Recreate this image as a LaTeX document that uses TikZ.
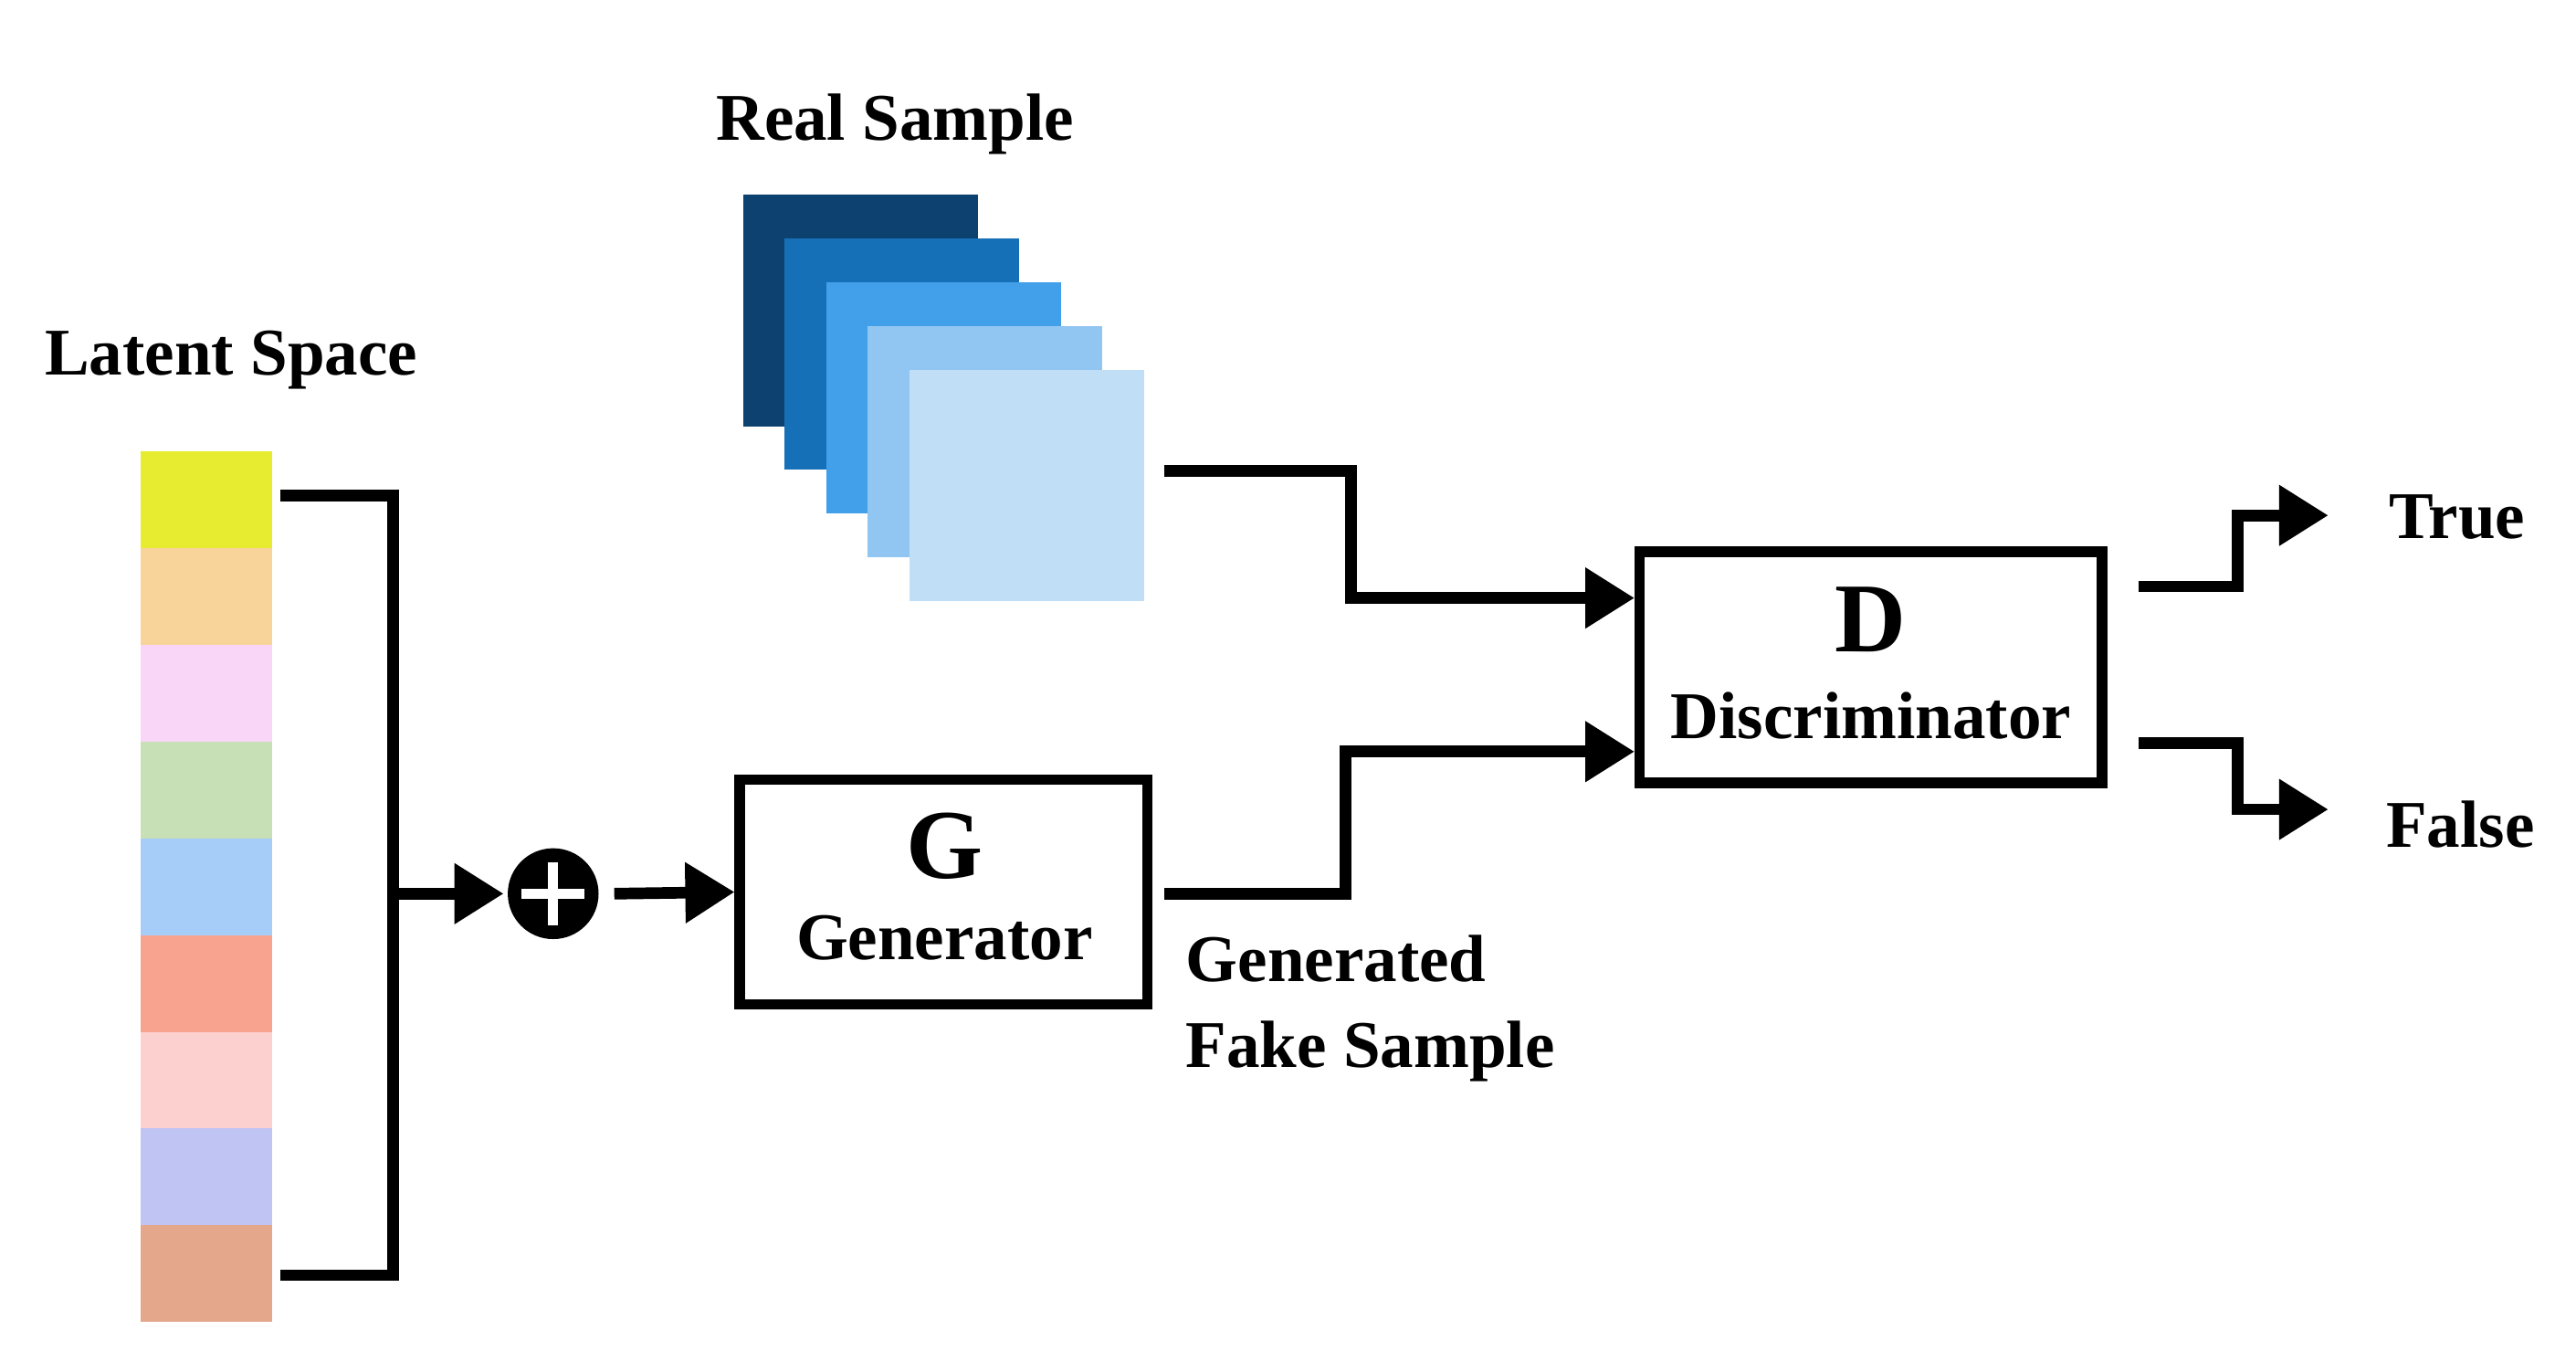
\documentclass[tikz,border=0pt]{standalone}
\usepackage{fontspec}
\setmainfont{Liberation Serif}
\usetikzlibrary{arrows.meta}
\begin{document}
\begin{tikzpicture}[x=0.02cm,y=-0.02cm,
  lbl/.style={font=\fontsize{23}{29.5}\selectfont\bfseries},
  big/.style={font=\fontsize{34}{38}\selectfont\bfseries},
  blk/.style={draw,line width=3.6pt,minimum width=0},
  wire/.style={line width=4pt},
  arr/.style={wire,-{Triangle[length=17pt,width=20pt]}},
  sq/.style={inner sep=0,minimum width=2.84cm,minimum height=2.8cm}]
\useasboundingbox (0,0) rectangle (1560,824.5);
\definecolor{c1}{HTML}{E8EC30}\definecolor{c2}{HTML}{F9D49A}\definecolor{c3}{HTML}{F9D6F7}
\definecolor{c4}{HTML}{C7E0B6}\definecolor{c5}{HTML}{A6CDF7}\definecolor{c6}{HTML}{F7A390}
\definecolor{c7}{HTML}{FCD0CF}\definecolor{c8}{HTML}{C0C4F3}\definecolor{c9}{HTML}{E4A78C}
\definecolor{r1}{HTML}{0D4170}\definecolor{r2}{HTML}{1670B8}\definecolor{r3}{HTML}{42A0EA}
\definecolor{r4}{HTML}{92C6F2}\definecolor{r5}{HTML}{C0DFF7}
% latent
\node[lbl] (lt) at (140,218) {Latent Space};
\foreach \c [count=\i] in {c1,c2,c3,c4,c5,c6,c7,c8,c9}
  \fill[\c] (85,{273+(\i-1)*58.6}) rectangle (165,{273+\i*58.6});
\coordinate (l1) at (170,300); \coordinate (l2) at (170,772);
\coordinate (jn) at (238,541);
\draw[wire] (l1) -- (238,300) -- (238,772) -- (l2);
% oplus
\node[circle,fill=black,minimum size=1.1cm,inner sep=0] (op) at (335,541) {};
\draw[white,line width=3.4pt] ([yshift=-5]op.north) -- ([yshift=5]op.south);
\draw[white,line width=3.4pt] ([xshift=5]op.west) -- ([xshift=-5]op.east);
\draw[arr] (jn) -- (305,541);
% G
\node[blk,minimum width=4.94cm,minimum height=2.72cm] (G) at (571.5,540) {};
\node[big] (Gl) at (572,512) {G};
\node[lbl] (Gt) at (572,568) {Generator};
\draw[arr] (372,541) -- (G.west);
% real sample
\node[lbl] (rs) at (542,75) {Real Sample};
\foreach \c [count=\i] in {r1,r2,r3,r4,r5}
  \node[sq,fill=\c] (s\i) at ({521+(\i-1)*25.2},{188+(\i-1)*26.5}) {};
% D
\node[blk,minimum width=5.6cm,minimum height=2.8cm] (D) at (1133,404) {};
\node[big] (Dl) at (1133,375) {D};
\node[lbl] (Dt) at (1133,433) {Discriminator};
\coordinate (rs0) at (705,285);
\draw[arr] (rs0) -- (818,285) -- (818,362) -- (D.west|-0,362);
\coordinate (g0) at (705,541);
\draw[arr] (g0) -- (815,541) -- (815,455) -- (D.west|-0,455);
\node[lbl,align=left,anchor=north west] (gf) at (712,560) {Generated\\Fake Sample};
% outputs
\node[lbl] (T) at (1488,313) {True};
\node[lbl] (F) at (1490,499) {False};
\draw[arr] (1295,355) -- (1355,355) -- (1355,312) -- (1410,312);
\draw[arr] (1295,450) -- (1355,450) -- (1355,490) -- (1410,490);
\end{tikzpicture}
\end{document}
